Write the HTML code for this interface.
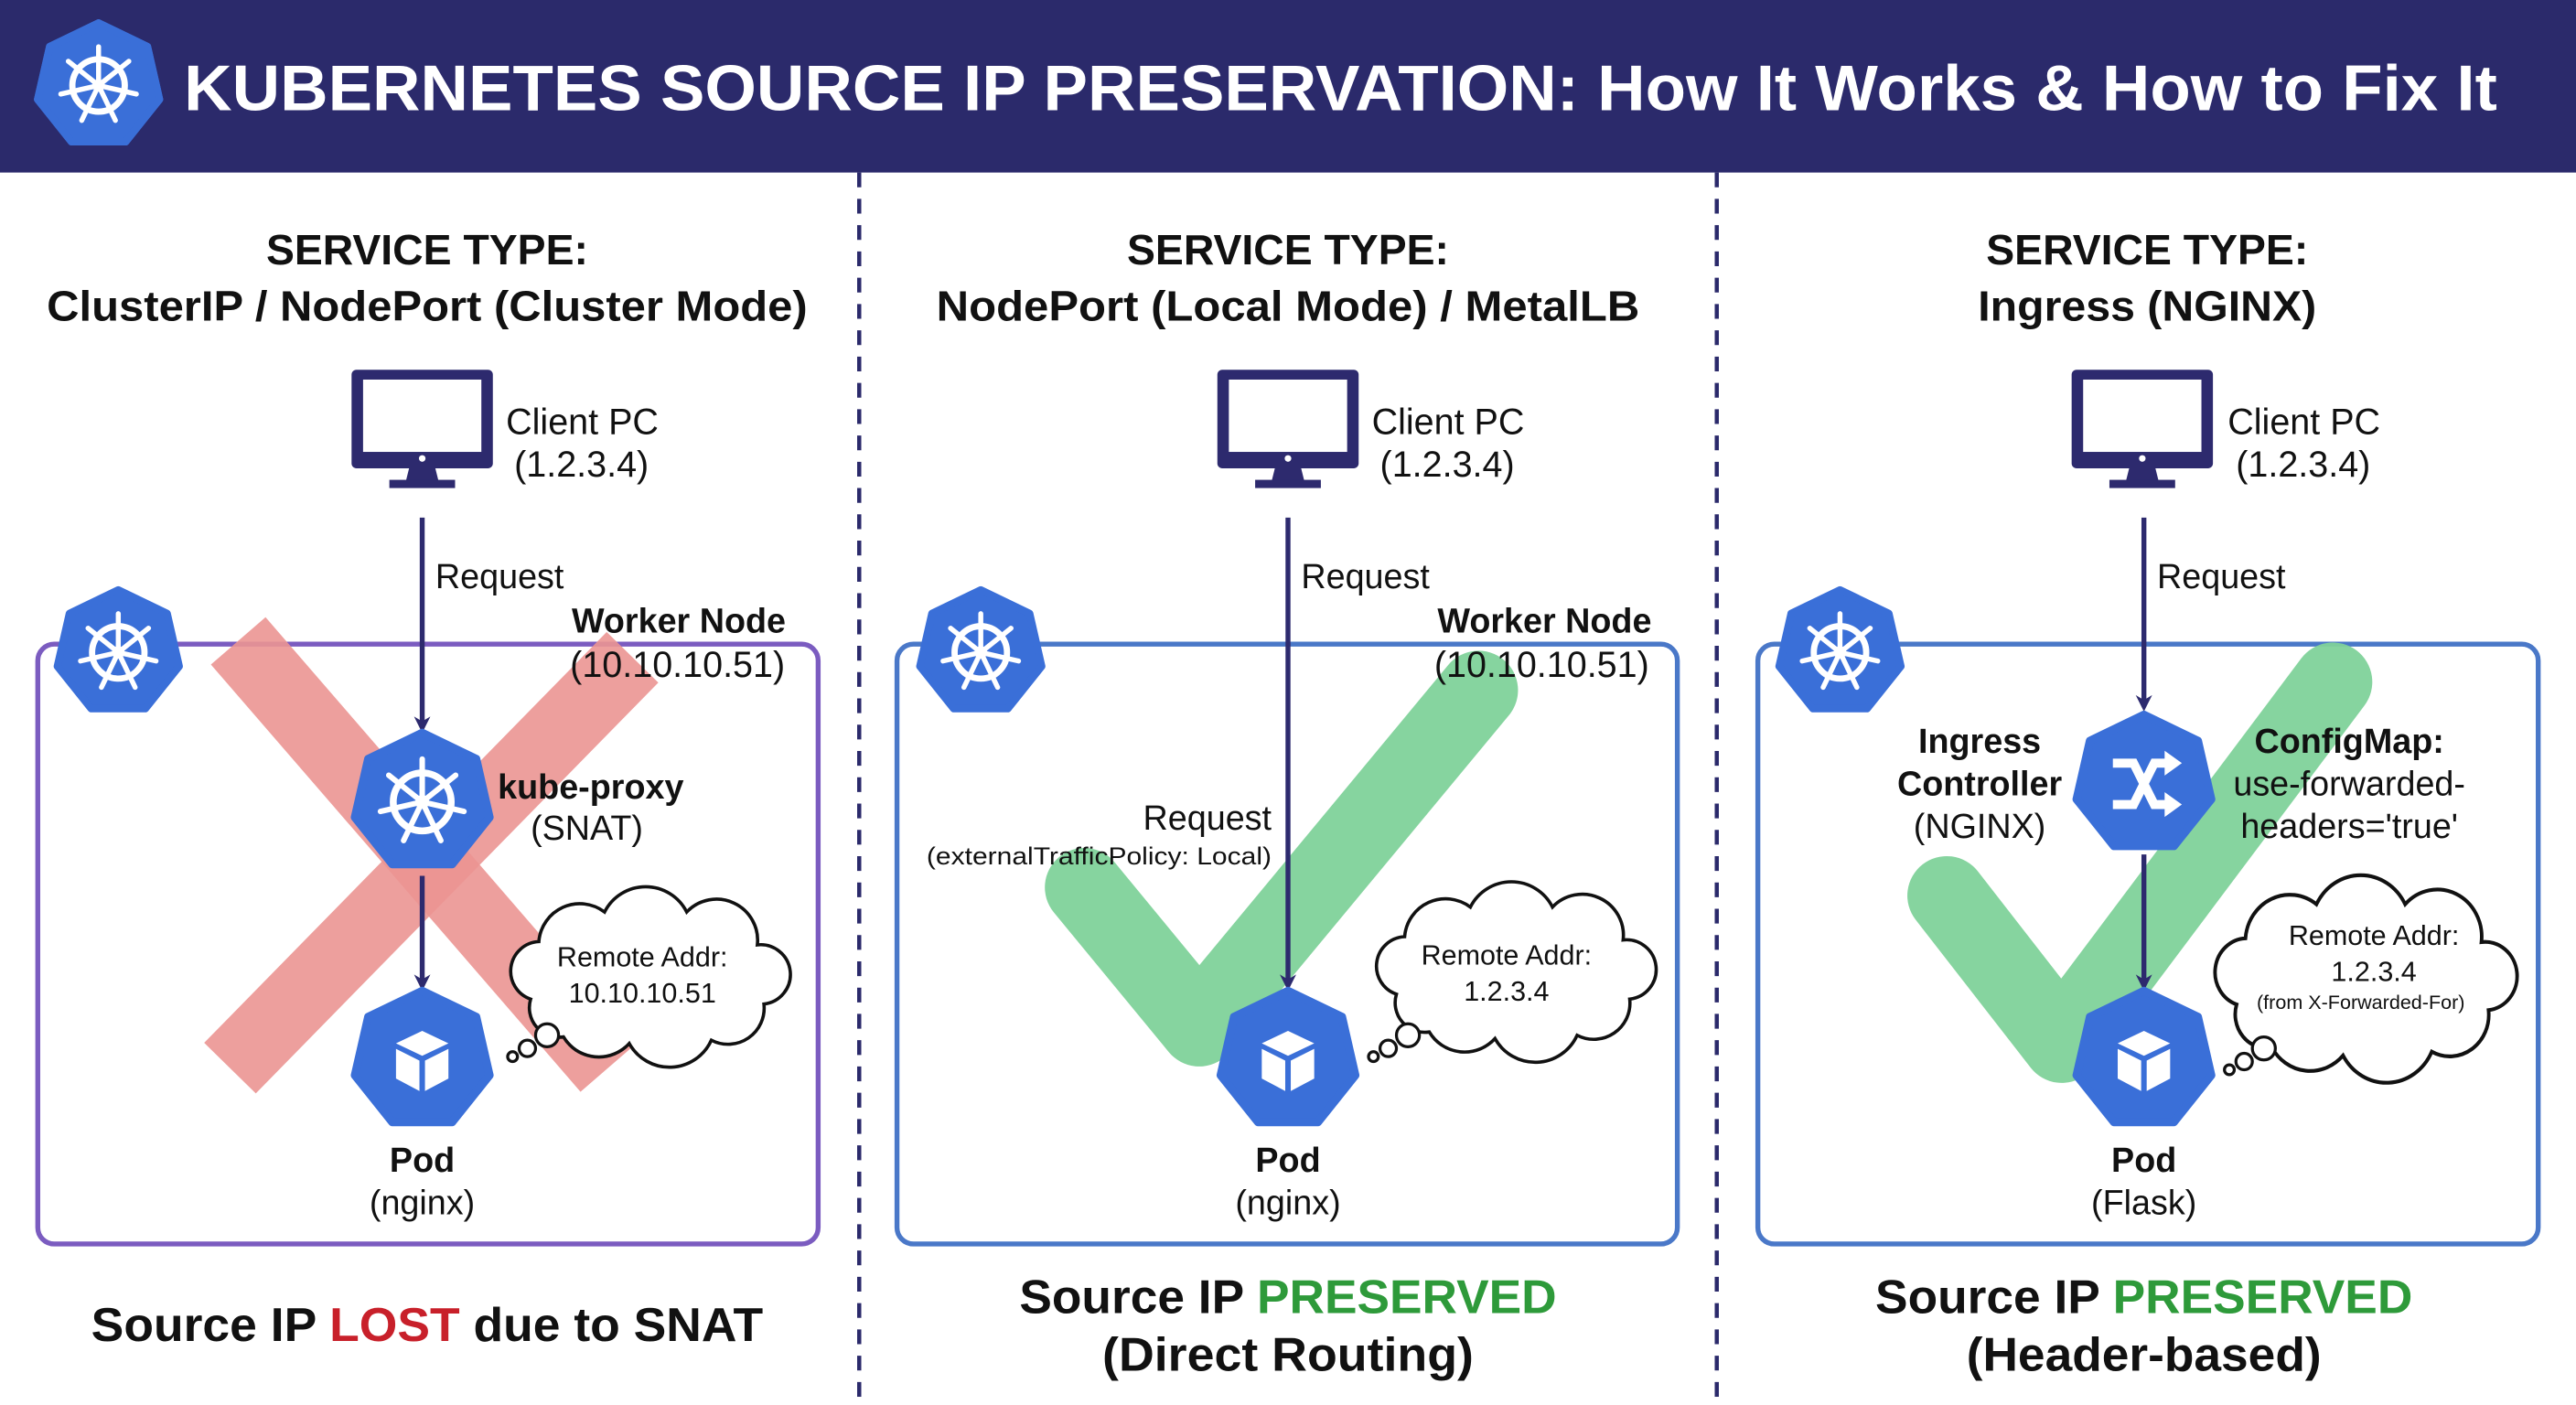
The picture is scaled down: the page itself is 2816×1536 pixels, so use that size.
<!DOCTYPE html>
<html><head><meta charset="utf-8">
<style>
html,body{margin:0;padding:0;background:#fff;}
svg{display:block;}
text{font-family:"Liberation Sans",sans-serif;}
</style></head>
<body>
<svg width="2816" height="1536" viewBox="0 0 1568 855" preserveAspectRatio="none" xmlns="http://www.w3.org/2000/svg">
<defs>
  <polygon id="hept" points="0,-1 0.782,-0.623 0.975,0.223 0.434,0.901 -0.434,0.901 -0.975,0.223 -0.782,-0.623" fill="#3a6fd8" stroke="#3a6fd8" stroke-width="0.12" stroke-linejoin="round"/>
  <g id="helm" fill="none" stroke="#fff">
    <circle r="0.42" stroke-width="0.1"/>
    <circle r="0.1" fill="#fff" stroke="none"/>
    <g stroke-width="0.08" stroke-linecap="round">
      <line x1="0" y1="0" x2="0" y2="-0.62"/>
      <line x1="0" y1="0" x2="0.485" y2="-0.387"/>
      <line x1="0" y1="0" x2="0.605" y2="0.138"/>
      <line x1="0" y1="0" x2="0.27" y2="0.56"/>
      <line x1="0" y1="0" x2="-0.27" y2="0.56"/>
      <line x1="0" y1="0" x2="-0.605" y2="0.138"/>
      <line x1="0" y1="0" x2="-0.485" y2="-0.387"/>
    </g>
  </g>
  <g id="cube">
    <polygon points="0,-0.42 0.38,-0.24 0,-0.06 -0.38,-0.24" fill="#fff"/>
    <polygon points="-0.38,-0.16 -0.04,0.01 -0.04,0.45 -0.38,0.27" fill="#fff"/>
    <polygon points="0.38,-0.16 0.04,0.01 0.04,0.45 0.38,0.27" fill="#fff"/>
  </g>
  <path id="cloud" d="M -70,15 A 18 18 0 0 1 -65,-20 A 25 25 0 0 1 -25,-38 A 28 28 0 0 1 25,-38 A 25 25 0 0 1 68,-18 A 18 18 0 0 1 72,18 A 22 22 0 0 1 40,40 A 28 28 0 0 1 -10,42 A 25 25 0 0 1 -50,38 A 18 18 0 0 1 -70,15 Z" fill="#fff" stroke="#111" stroke-width="2"/>
  <g id="monitor">
    <rect x="-43" y="-37" width="86" height="60" rx="3" fill="#2d2a6e"/>
    <rect x="-36" y="-31" width="72" height="44" fill="#fff"/>
    <circle cx="0" cy="17" r="2" fill="#fff"/>
    <polygon points="-8,23 8,23 10,31 -10,31" fill="#2d2a6e"/>
    <rect x="-20" y="30" width="40" height="5" fill="#2d2a6e"/>
  </g>
  <marker id="ah" markerWidth="10" markerHeight="10" refX="7" refY="5" orient="auto" markerUnits="userSpaceOnUse">
    <path d="M0,0 L10,5 L0,10 L3,5 Z" fill="#2d2a6e"/>
  </marker>
  <g id="bubbles" fill="#fff" stroke="#111" stroke-width="1.8">
    <circle cx="0" cy="0" r="7"/><circle cx="-12" cy="8" r="5"/><circle cx="-21" cy="13" r="3"/>
  </g>
</defs>

<!-- Header -->
<rect x="0" y="0" width="1568" height="105" fill="#2b2a6b"/>
<g transform="translate(60,52) scale(38)"><use href="#hept" stroke="#fff" stroke-width="0.08"/><use href="#hept"/><use href="#helm"/></g>
<text x="112" y="67" font-size="39" font-weight="bold" fill="#fff" textLength="1408" lengthAdjust="spacingAndGlyphs">KUBERNETES SOURCE IP PRESERVATION: How It Works &amp; How to Fix It</text>

<!-- dividers -->
<line x1="523" y1="105" x2="523" y2="855" stroke="#2b2a6b" stroke-width="2.5" stroke-dasharray="9,7"/>
<line x1="1045" y1="105" x2="1045" y2="855" stroke="#2b2a6b" stroke-width="2.5" stroke-dasharray="9,7"/>

<g text-anchor="middle" font-weight="bold" font-size="26" fill="#111">
<text x="260" y="161" textLength="196" lengthAdjust="spacingAndGlyphs">SERVICE TYPE:</text>
<text x="260" y="195" textLength="463" lengthAdjust="spacingAndGlyphs">ClusterIP / NodePort (Cluster Mode)</text>
<text x="784" y="161" textLength="196" lengthAdjust="spacingAndGlyphs">SERVICE TYPE:</text>
<text x="784" y="195" textLength="428" lengthAdjust="spacingAndGlyphs">NodePort (Local Mode) / MetalLB</text>
<text x="1307" y="161" textLength="196" lengthAdjust="spacingAndGlyphs">SERVICE TYPE:</text>
<text x="1307" y="195" textLength="206" lengthAdjust="spacingAndGlyphs">Ingress (NGINX)</text>
</g>

<!-- Panel 1 -->
<rect x="23" y="392" width="475" height="365" rx="10" fill="none" stroke="#7b5cc0" stroke-width="3"/>
<line x1="145" y1="390" x2="370" y2="650" stroke="#ec9593" stroke-width="44" opacity="0.9"/>
<line x1="385" y1="400" x2="140" y2="650" stroke="#ec9593" stroke-width="44" opacity="0.9"/>
<g transform="translate(72,397) scale(38)"><use href="#hept"/><use href="#helm"/></g>
<g transform="translate(257,262)"><use href="#monitor"/></g>
<text x="308" y="264" font-size="22" fill="#111">Client PC</text>
<text x="313" y="290" font-size="22" fill="#111">(1.2.3.4)</text>
<line x1="257" y1="315" x2="257" y2="443" stroke="#2d2a6e" stroke-width="3" marker-end="url(#ah)"/>
<text x="265" y="358" font-size="21" fill="#111">Request</text>
<text x="348" y="385" font-size="21" font-weight="bold" fill="#111">Worker Node</text>
<text x="347" y="412" font-size="22" fill="#111">(10.10.10.51)</text>
<g transform="translate(257,488) scale(42)"><use href="#hept"/><use href="#helm"/></g>
<text x="303" y="486" font-size="21" font-weight="bold" fill="#111">kube-proxy</text>
<text x="323" y="511" font-size="21" fill="#111">(SNAT)</text>
<line x1="257" y1="533" x2="257" y2="600" stroke="#2d2a6e" stroke-width="3" marker-end="url(#ah)"/>
<g transform="translate(257,645) scale(42)"><use href="#hept"/><use href="#cube"/></g>
<text x="257" y="713" font-size="21" font-weight="bold" fill="#111" text-anchor="middle">Pod</text>
<text x="257" y="739" font-size="21" fill="#111" text-anchor="middle">(nginx)</text>
<g transform="translate(393,593)"><use href="#cloud"/></g>
<g transform="translate(333,630)"><use href="#bubbles"/></g>
<text x="391" y="588" font-size="17" fill="#111" text-anchor="middle">Remote Addr:</text>
<text x="391" y="610" font-size="17" fill="#111" text-anchor="middle">10.10.10.51</text>
<text x="260" y="816" font-size="29" font-weight="bold" fill="#111" text-anchor="middle" textLength="409" lengthAdjust="spacingAndGlyphs">Source IP <tspan fill="#c8202a">LOST</tspan> due to SNAT</text>

<!-- Panel 2 -->
<rect x="546" y="392" width="475" height="365" rx="10" fill="none" stroke="#4a78c8" stroke-width="3"/>
<polyline points="660,540 730,625 900,420" fill="none" stroke="#7fd29a" stroke-width="48" stroke-linecap="round" stroke-linejoin="round" opacity="0.95"/>
<g transform="translate(597,397) scale(38)"><use href="#hept"/><use href="#helm"/></g>
<g transform="translate(784,262)"><use href="#monitor"/></g>
<text x="835" y="264" font-size="22" fill="#111">Client PC</text>
<text x="840" y="290" font-size="22" fill="#111">(1.2.3.4)</text>
<line x1="784" y1="315" x2="784" y2="600" stroke="#2d2a6e" stroke-width="3" marker-end="url(#ah)"/>
<text x="792" y="358" font-size="21" fill="#111">Request</text>
<text x="875" y="385" font-size="21" font-weight="bold" fill="#111">Worker Node</text>
<text x="873" y="412" font-size="22" fill="#111">(10.10.10.51)</text>
<text x="774" y="505" font-size="21" fill="#111" text-anchor="end">Request</text>
<text x="774" y="526" font-size="15" fill="#111" text-anchor="end" textLength="210" lengthAdjust="spacingAndGlyphs">(externalTrafficPolicy: Local)</text>
<g transform="translate(784,645) scale(42)"><use href="#hept"/><use href="#cube"/></g>
<text x="784" y="713" font-size="21" font-weight="bold" fill="#111" text-anchor="middle">Pod</text>
<text x="784" y="739" font-size="21" fill="#111" text-anchor="middle">(nginx)</text>
<g transform="translate(920,590)"><use href="#cloud"/></g>
<g transform="translate(857,630)"><use href="#bubbles"/></g>
<text x="917" y="587" font-size="17" fill="#111" text-anchor="middle">Remote Addr:</text>
<text x="917" y="609" font-size="17" fill="#111" text-anchor="middle">1.2.3.4</text>
<text x="784" y="799" font-size="29" font-weight="bold" fill="#111" text-anchor="middle" textLength="327" lengthAdjust="spacingAndGlyphs">Source IP <tspan fill="#2e9a3a">PRESERVED</tspan></text>
<text x="784" y="834" font-size="29" font-weight="bold" fill="#111" text-anchor="middle" textLength="226" lengthAdjust="spacingAndGlyphs">(Direct Routing)</text>

<!-- Panel 3 -->
<rect x="1070" y="392" width="475" height="365" rx="10" fill="none" stroke="#4a78c8" stroke-width="3"/>
<polyline points="1185,545 1255,635 1420,415" fill="none" stroke="#7fd29a" stroke-width="48" stroke-linecap="round" stroke-linejoin="round" opacity="0.95"/>
<g transform="translate(1120,397) scale(38)"><use href="#hept"/><use href="#helm"/></g>
<g transform="translate(1304,262)"><use href="#monitor"/></g>
<text x="1356" y="264" font-size="22" fill="#111">Client PC</text>
<text x="1361" y="290" font-size="22" fill="#111">(1.2.3.4)</text>
<line x1="1305" y1="315" x2="1305" y2="430" stroke="#2d2a6e" stroke-width="3" marker-end="url(#ah)"/>
<text x="1313" y="358" font-size="21" fill="#111">Request</text>
<g transform="translate(1305,477) scale(42)"><use href="#hept"/>
  <g fill="none" stroke="#fff" stroke-width="0.13">
    <path d="M-0.45,-0.3 L-0.15,-0.3 L0.15,0.3 L0.35,0.3"/>
    <path d="M-0.45,0.3 L-0.15,0.3 L0.15,-0.3 L0.35,-0.3"/>
  </g>
  <polygon points="0.3,-0.48 0.55,-0.3 0.3,-0.12" fill="#fff"/>
  <polygon points="0.3,0.12 0.55,0.3 0.3,0.48" fill="#fff"/>
</g>
<g font-size="21" fill="#111" text-anchor="middle">
<text x="1205" y="458" font-weight="bold">Ingress</text>
<text x="1205" y="484" font-weight="bold">Controller</text>
<text x="1205" y="510">(NGINX)</text>
<text x="1430" y="458" font-weight="bold">ConfigMap:</text>
<text x="1430" y="484">use-forwarded-</text>
<text x="1430" y="510">headers='true'</text>
</g>
<line x1="1305" y1="520" x2="1305" y2="600" stroke="#2d2a6e" stroke-width="3" marker-end="url(#ah)"/>
<g transform="translate(1305,645) scale(42)"><use href="#hept"/><use href="#cube"/></g>
<text x="1305" y="713" font-size="21" font-weight="bold" fill="#111" text-anchor="middle">Pod</text>
<text x="1305" y="739" font-size="21" fill="#111" text-anchor="middle">(Flask)</text>
<g transform="translate(1437,594) scale(1.08,1.15)"><use href="#cloud"/></g>
<g transform="translate(1378,638)"><use href="#bubbles"/></g>
<text x="1445" y="575" font-size="17" fill="#111" text-anchor="middle">Remote Addr:</text>
<text x="1445" y="597" font-size="17" fill="#111" text-anchor="middle">1.2.3.4</text>
<text x="1437" y="614" font-size="12" fill="#111" text-anchor="middle">(from X-Forwarded-For)</text>
<text x="1305" y="799" font-size="29" font-weight="bold" fill="#111" text-anchor="middle" textLength="327" lengthAdjust="spacingAndGlyphs">Source IP <tspan fill="#2e9a3a">PRESERVED</tspan></text>
<text x="1305" y="834" font-size="29" font-weight="bold" fill="#111" text-anchor="middle" textLength="216" lengthAdjust="spacingAndGlyphs">(Header-based)</text>
</svg>
</body></html>
